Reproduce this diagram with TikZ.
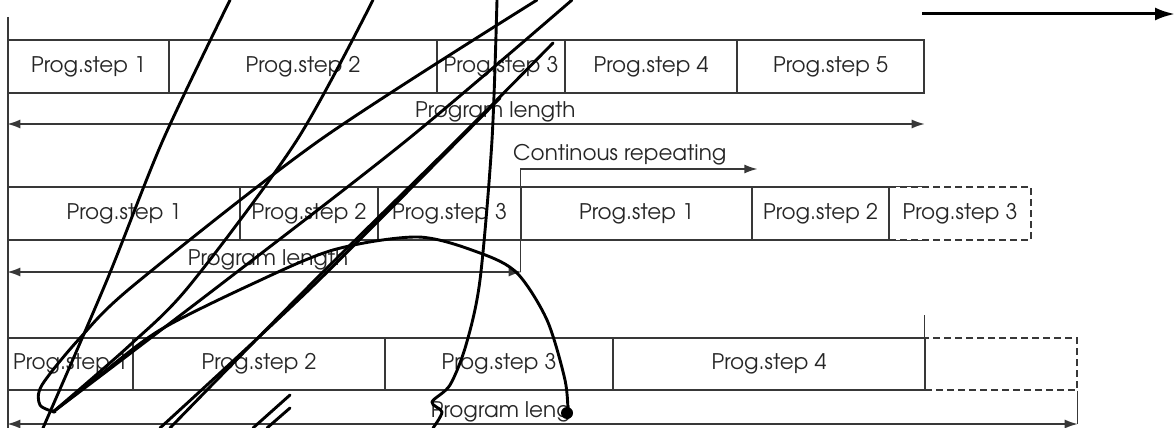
\documentclass[tikz,border=0pt]{standalone}
\usepackage{fontspec}
\setmainfont{TeX Gyre Adventor}
\usetikzlibrary{arrows.meta,positioning}

\begin{document}
\begin{tikzpicture}[
x=1pt, y=-1pt,
frame/.style={
  draw=black!78,
  line width=1.3pt
  },
cell/.style={
  frame,
  minimum height=53pt,
  inner sep=0pt,
  text=black!85,
  font=\fontsize{21.5}{24}\selectfont
  },
dashcell/.style={
  cell,
  dash pattern=on 7pt off 4pt
  },
lbl/.style={
  text=black!85,
  inner sep=0pt,
  font=\fontsize{21.5}{24}\selectfont
  },
scribble/.style={
  line width=2.9pt,
  line cap=round,
  line join=round
  },
>={Latex[length=13pt,width=9pt]}
]
\useasboundingbox (0,0) rectangle (1176,428);

% first program: five steps
\foreach \l/\r/\n [count=\i] in {8/169/1,169/437/2,437/565/3,565/737/4,737/924/5}
  \node[cell, minimum width=\r-\l] (r1c\i) at ({(\l+\r)/2},66.5) {Prog.step \n};

% second program, repeated
\foreach \l/\r/\n [count=\i] in {8/240/1,240/378/2,378/521/3,521/752/1,752/889/2}
  \node[cell, minimum width=\r-\l] (r2c\i) at ({(\l+\r)/2},213.5) {Prog.step \n};
\node[dashcell, minimum width=142] (r2c6) at (960,213.5) {Prog.step 3};
\draw[frame] (r2c6.north west) -- ++(41,0);
\draw[frame] (r2c6.south west) -- ++(41,0);

% third program
\foreach \l/\r/\n [count=\i] in {8/133/1,133/385/2,385/613/3,613/925/4}
  \node[cell, minimum width=\r-\l, minimum height=52pt] (r3c\i) at ({(\l+\r)/2},364) {Prog.step \n};
\node[dashcell, minimum width=152, minimum height=52pt] (r3c5) at (1001,364) {};
\draw[frame] (r3c5.south west) -- (r3c5.north west |- 0,315);
\draw[frame] (r3c5.south east) -- (r3c5.south east |- 0,424);

% time axis
\draw[frame] (8,17) -- (8,428);
\draw[line width=3pt, -{Latex[length=20pt,width=13pt]}] (922,14) -- (1175,14);

% lengths
\draw[frame,<->] (r1c1.south west |- 0,124) -- node[lbl, pos=.532, anchor=base, yshift=6.5pt] (len1) {Program length} (r1c5.south east |- 0,124);
\draw[frame,<->] (r2c1.south west |- 0,272) -- node[lbl, pos=.507, anchor=base, yshift=6.5pt] (len2) {Program length} (r2c3.south east |- 0,272);
\draw[frame,<->] (r3c1.south west |- 0,424) -- node[lbl, pos=.461, anchor=base, yshift=6.5pt] (len3) {Program leng} (r3c5.south east |- 0,424);

% repeat marker
\draw[frame,->] (r2c4.south west |- 0,272) -- (r2c4.north west |- 0,169) -- ++(237,0);
\node[lbl, anchor=base west] (rep) at (513,160) {Continous repeating};

% pen strokes over the chart
\draw[scribble] plot[smooth] coordinates {(230,0) (163,140) (107,280) (43,428)};
\draw[scribble] plot[smooth] coordinates {(373,0) (297,140) (190,285) (130,345) (53,412)};
\draw[scribble] plot[smooth] coordinates {(537,0) (320,140) (134,285) (80,338) (42,385) (40,405) (55,412)};
\draw[scribble] plot[smooth] coordinates {(572,0) (407,140) (220,285) (53,412)};
\draw[scribble] plot[smooth] coordinates {(553,43) (457,140) (315,280) (170,428)};
\draw[scribble] plot[smooth] coordinates {(500,98) (315,284) (160,428)};
\draw[scribble] (290,395) -- (253,428);
\draw[scribble] (290,408) -- (267,428);
\draw[scribble] plot[smooth] coordinates {(497,0) (492,140) (480,280) (466,345) (450,385) (432,402) (442,412) (433,428)};
\draw[scribble] plot[smooth] coordinates {(53,412) (100,375) (160,330) (250,285) (333,250) (418,237) (480,253) (517,273) (547,320) (565,380) (568,413)};
\fill (567,413) circle (6pt);
\end{tikzpicture}
\end{document}
